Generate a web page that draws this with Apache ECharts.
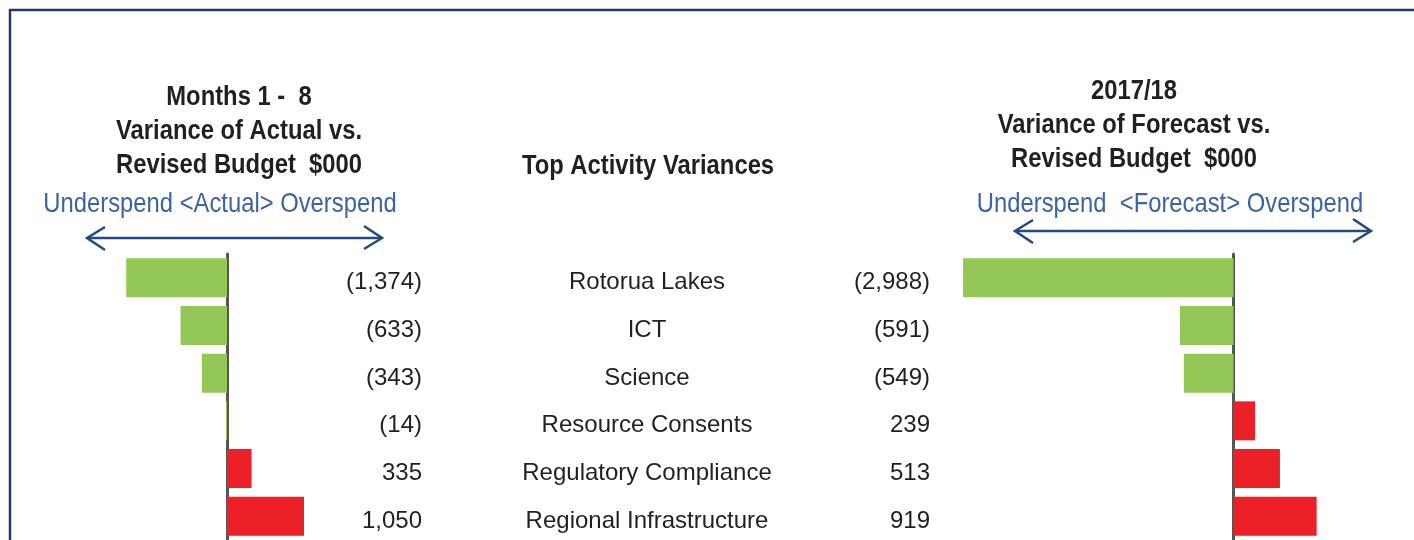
<!DOCTYPE html>
<html>
<head>
<meta charset="utf-8">
<script src="https://cdn.jsdelivr.net/npm/echarts@6/dist/echarts.min.js"></script>
<style>
  html, body { margin: 0; padding: 0; background: #fff; }
  #main { width: 1414px; height: 540px; }
</style>
</head>
<body>
<div id="main"></div>
<script>
var activities = ['Rotorua Lakes', 'ICT', 'Science', 'Resource Consents', 'Regulatory Compliance', 'Regional Infrastructure'];
var actualVar = [-1374, -633, -343, -14, 335, 1050];
var forecastVar = [-2988, -591, -549, 239, 513, 919];

var FONT = "'Liberation Sans', Arial, sans-serif";
var GREEN = '#93c756';
var RED = '#ec2127';
var TEXT = '#231f20';
var BLUE = '#3a64a2';
var NAVY = '#24497f';
// source uses a narrow face; squeeze the free-standing texts horizontally
var NARROW = 0.85;

function fmt(v) {
  var s = Math.abs(v).toLocaleString('en-US');
  return v < 0 ? '(' + s + ')' : s;
}

var chart = echarts.init(document.getElementById('main'));

function barColor(p) { return p.value < 0 ? GREEN : RED; }

function labelAxis(grid, pos, data, margin, align) {
  return {
    type: 'category', gridIndex: grid, position: pos, inverse: true, data: data,
    axisLine: { show: false, onZero: false }, axisTick: { show: false },
    axisLabel: {
      margin: margin, align: align, fontFamily: FONT, fontSize: 24, color: TEXT,
      // nudge text a few px below the bar centre, as in the source
      verticalAlign: 'top', lineHeight: 10
    }
  };
}

function zeroAxis(grid) {
  return {
    type: 'category', gridIndex: grid, inverse: true, data: activities,
    axisLine: { show: true, onZero: true, lineStyle: { color: '#555', width: 3 } },
    axisTick: { show: false }, axisLabel: { show: false }
  };
}

function text(x, y, str, bold, color, valign) {
  return {
    type: 'text', x: x, y: y, scaleX: NARROW,
    style: {
      text: str, textAlign: 'center', textVerticalAlign: valign || 'middle', lineHeight: 34,
      font: (bold ? 'bold ' : '') + '28px ' + FONT, fill: color
    }
  };
}

function arrow(x1, x2, y) {
  var s = { stroke: NAVY, lineWidth: 2.5, fill: 'none' };
  return [
    { type: 'line', shape: { x1: x1 + 1, y1: y, x2: x2 - 1, y2: y }, style: s },
    { type: 'polyline', shape: { points: [[x1 + 18, y - 11], [x1, y], [x1 + 18, y + 12]] }, style: s },
    { type: 'polyline', shape: { points: [[x2 - 18, y - 12], [x2, y], [x2 - 18, y + 11]] }, style: s }
  ];
}

var option = {
  animation: false,
  grid: [
    { left: 117, width: 220, top: 254, height: 288 },
    { left: 962, width: 362, top: 254, height: 288 }
  ],
  xAxis: [
    { type: 'value', gridIndex: 0, min: -1500, max: 1500, show: false },
    { type: 'value', gridIndex: 1, min: -3000, max: 1000, show: false }
  ],
  yAxis: [
    zeroAxis(0),
    labelAxis(0, 'right', actualVar.map(fmt), 85, 'right'),
    labelAxis(0, 'right', activities, 310, 'center'),
    zeroAxis(1),
    labelAxis(1, 'left', forecastVar.map(fmt), 32, 'right')
  ],
  series: [
    {
      type: 'bar', xAxisIndex: 0, yAxisIndex: 0, data: actualVar,
      barWidth: 39, itemStyle: { color: barColor }
    },
    {
      type: 'bar', xAxisIndex: 1, yAxisIndex: 3, data: forecastVar,
      barWidth: 39, itemStyle: { color: barColor }
    }
  ],
  graphic: [
    {
      type: 'rect', silent: true,
      shape: { x: 10, y: 10, width: 1430, height: 600 },
      style: { fill: 'none', stroke: '#1f3b66', lineWidth: 2.5 }
    },
    text(239, 80, 'Months 1 -  8\nVariance of Actual vs.\nRevised Budget  $000', true, TEXT, 'top'),
    text(1134, 74, '2017/18\nVariance of Forecast vs.\nRevised Budget  $000', true, TEXT, 'top'),
    text(648, 166, 'Top Activity Variances', true, TEXT),
    text(220, 204, 'Underspend <Actual> Overspend', false, BLUE),
    text(1170, 204, 'Underspend  <Forecast> Overspend', false, BLUE)
  ].concat(arrow(87, 382, 238), arrow(1015, 1371, 231))
};

chart.setOption(option);
</script>
</body>
</html>
